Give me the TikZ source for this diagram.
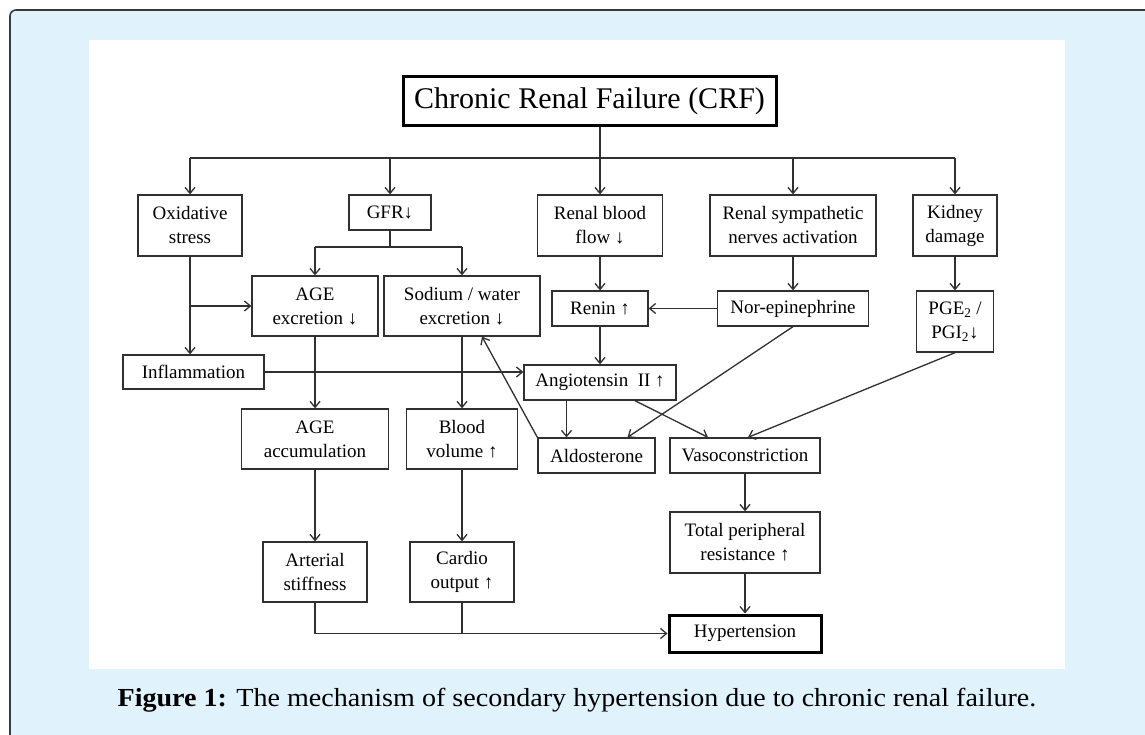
\documentclass[tikz,border=0pt]{standalone}
\usepackage{fontspec}
\setmainfont{Liberation Serif}
\newfontfamily\capfont[FakeStretch=1.08]{Liberation Serif}
\usepackage{xcolor}
\usetikzlibrary{arrows,arrows.meta,calc}
\definecolor{panelblue}{HTML}{E0F2FC}
\definecolor{framegray}{HTML}{3A3A3A}
\definecolor{inkgray}{HTML}{303030}
\tikzset{
  box/.style={draw=inkgray, line width=1.3pt, inner sep=0pt, align=center,
    font=\fontsize{19}{24}\selectfont},
  heavybox/.style={box, draw=black, line width=3pt},
  link/.style={color=inkgray, line width=1.3pt},
  >={Straight Barb[length=6pt,width=10pt]}
}

\begin{document}
\begin{tikzpicture}[x=1pt, y=-1pt]
  \useasboundingbox (0,0) rectangle (1145,735);
  \fill[panelblue] (10,10) rectangle (1145,735);
  \draw[framegray, line width=1.6pt, rounded corners=6pt] (10,735) -- (10,10) -- (1145,10);
  \fill[white] (89,40) rectangle (1065,669);

  \node[heavybox, minimum width=373pt, minimum height=49pt, font=\fontsize{30}{36}\selectfont] (crf) at (589.5,101.5) {Chronic Renal Failure (CRF)};

  \node[box, minimum width=104pt, minimum height=61pt] (oxi) at (190,225.5) {Oxidative\\stress};
  \node[box, minimum width=82pt, minimum height=35pt] (gfr) at (390,212.5) {GFR↓};
  \node[box, minimum width=125pt, minimum height=61pt] (rbf) at (600,225.5) {Renal blood\\flow ↓};
  \node[box, minimum width=166pt, minimum height=61pt] (rsn) at (793,225.5) {Renal sympathetic\\nerves activation};
  \node[box, minimum width=84pt, minimum height=61pt] (kid) at (955,225.5) {Kidney\\damage};

  \node[box, minimum width=126pt, minimum height=60pt] (agex) at (315,306) {AGE\\excretion ↓};
  \node[box, minimum width=156pt, minimum height=60pt] (sodex) at (462,306) {Sodium / water\\excretion ↓};
  \node[box, minimum width=96pt, minimum height=35pt] (renin) at (600,308.5) {Renin ↑};
  \node[box, minimum width=151pt, minimum height=35pt] (nore) at (793,308.5) {Nor-epinephrine};
  \node[box, minimum width=77pt, minimum height=61pt] (pge) at (955,321.5) {PGE\textsubscript{2} /\\PGI\textsubscript{2}↓};

  \node[box, minimum width=141pt, minimum height=34pt] (infl) at (193.5,372) {Inflammation};
  \node[box, minimum width=152pt, minimum height=35pt] (ang) at (600,382.5) {Angiotensin\ \ II ↑};

  \node[box, minimum width=147pt, minimum height=60pt] (agac) at (315,439) {AGE\\accumulation};
  \node[box, minimum width=111pt, minimum height=60pt] (blv) at (462,439) {Blood\\volume ↑};
  \node[box, minimum width=117pt, minimum height=35pt] (ald) at (596.5,455.5) {Aldosterone};
  \node[box, minimum width=150pt, minimum height=35pt] (vaso) at (745,455.5) {Vasoconstriction};

  \node[box, minimum width=150pt, minimum height=61pt] (tpr) at (745,542.5) {Total peripheral\\resistance ↑};
  \node[box, minimum width=104pt, minimum height=60pt] (art) at (315,572) {Arterial\\stiffness};
  \node[box, minimum width=104pt, minimum height=60pt] (card) at (462,572) {Cardio\\output ↑};
  \node[heavybox, minimum width=152pt, minimum height=37pt] (hyp) at (745,633.5) {Hypertension};

  \node[font=\capfont\fontsize{26}{30}\selectfont] (cap) at (577,700) {\textbf{Figure 1:} The mechanism of secondary hypertension due to chronic renal failure.};

  \coordinate (bus) at (0,158);
  \coordinate (split) at (0,247);
  \draw[link] (oxi.north |- bus) -- (kid.north |- bus);
  \draw[link] (gfr.south) -- (gfr.south |- split);
  \draw[link] (agex.north |- split) -- (sodex.north |- split);

  \path[link, ->]
  (crf.south -| rbf.north) edge (rbf.north)
  (oxi.north |- bus) edge (oxi.north)
  (gfr.north |- bus) edge (gfr.north)
  (rsn.north |- bus) edge (rsn.north)
  (kid.north |- bus) edge (kid.north)
  (agex.north |- split) edge (agex.north)
  (sodex.north |- split) edge (sodex.north)
  (oxi.south) edge (oxi.south |- infl.north)
  (oxi.south |- agex.west) edge (agex.west)
  (rbf) edge (renin)
  (rsn) edge (nore)
  (kid) edge (pge)
  (nore) edge (renin)
  (renin) edge (ang)
  (infl.east) edge (infl.east -| ang.west)
  (agex) edge (agac)
  (sodex) edge (blv)
  (agac) edge (art)
  (blv) edge (card)
  (ald.north west) edge ($(sodex.south)+(20,0)$)
  ([xshift=-30pt]ald.north |- ang.south) edge ([xshift=-30pt]ald.north)
  ([xshift=35pt]ang.south) edge ([xshift=-37pt]vaso.north)
  (nore.south) edge ([xshift=31pt]ald.north)
  (pge.south) edge ([xshift=3pt]vaso.north)
  (vaso) edge (tpr)
  (tpr) edge (hyp)
  ;
  \draw[link, ->] (art.south) |- (hyp.west);
  \draw[link] (card.south) -- (card.south |- hyp.west);
\end{tikzpicture}
\end{document}
